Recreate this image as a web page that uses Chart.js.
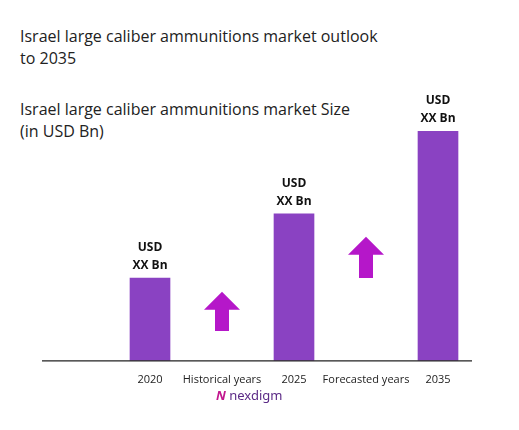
<!DOCTYPE html>
<html>
<head>
<meta charset="utf-8">
<script src="https://cdn.jsdelivr.net/npm/chart.js@4.4.0/dist/chart.umd.min.js"></script>
<style>
  body { margin: 0; background: #fff; font-family: "Open Sans", sans-serif; }
  #wrap { position: relative; width: 519px; height: 430px; }
  .t { position: absolute; left: 20px; color: #222; font-size: 16px; line-height: 22px; }
  #logo { position: absolute; left: 216px; top: 386px; font-size: 13px; color: #5b2a86; font-family: "Noto Sans", sans-serif; }
  #logo b { color: #c2188f; font-style: italic; }
</style>
</head>
<body>
<div id="wrap">
  <div class="t" style="top:25px">Israel large caliber ammunitions market outlook<br>to 2035</div>
  <div class="t" style="top:98px">Israel large caliber ammunitions market Size<br>(in USD Bn)</div>
  <canvas id="myChart" width="519" height="430" style="position:absolute;left:0;top:0"></canvas>
  <div id="logo"><b>N</b> nexdigm</div>
</div>
<script>
const categories = ['2020', 'Historical years', '2025', 'Forecasted years', '2035'];
const marketSize = [3.6, null, 6.4, null, 10];
const barLabels = ['USD\nXX Bn', '', 'USD\nXX Bn', '', 'USD\nXX Bn'];
const arrowRange = [null, [1.3, 3.0], null, [3.6, 5.4], null];

const extras = {
    id: 'extras',
    afterDatasetsDraw(chart) {
        const ctx = chart.ctx;
        const x = chart.scales.x, y = chart.scales.y;
        // baseline
        ctx.save();
        ctx.strokeStyle = '#222';
        ctx.lineWidth = 1.2;
        ctx.beginPath();
        ctx.moveTo(42, y.getPixelForValue(0));
        ctx.lineTo(472, y.getPixelForValue(0));
        ctx.stroke();
        // labels above bars
        ctx.fillStyle = '#111';
        ctx.font = 'bold 12px "Open Sans", sans-serif';
        ctx.textAlign = 'center';
        marketSize.forEach((v, i) => {
            if (v === null) return;
            const px = x.getPixelForValue(i);
            const py = y.getPixelForValue(v);
            const lines = barLabels[i].split('\n');
            ctx.fillText(lines[0], px, py - 27);
            ctx.fillText(lines[1], px, py - 9);
        });
        // arrows
        ctx.fillStyle = '#b517c9';
        arrowRange.forEach((r, i) => {
            if (!r) return;
            const px = x.getPixelForValue(i);
            const top = y.getPixelForValue(r[1]);
            const bot = y.getPixelForValue(r[0]);
            const head = 18;
            ctx.beginPath();
            ctx.moveTo(px, top);
            ctx.lineTo(px + 18, top + head);
            ctx.lineTo(px + 7, top + head);
            ctx.lineTo(px + 7, bot);
            ctx.lineTo(px - 7, bot);
            ctx.lineTo(px - 7, top + head);
            ctx.lineTo(px - 18, top + head);
            ctx.closePath();
            ctx.fill();
        });
        ctx.restore();
    }
};

new Chart(document.getElementById('myChart'), {
    type: 'bar',
    data: {
        labels: categories,
        datasets: [{
            data: marketSize,
            backgroundColor: '#8a42c2',
            barThickness: 40,
            skipNull: true
        }]
    },
    options: {
        responsive: false,
        animation: false,
        layout: { padding: { left: 114, right: 45, top: 131, bottom: 40 } },
        plugins: { legend: { display: false }, tooltip: { enabled: false } },
        scales: {
            x: {
                grid: { display: false },
                border: { display: false },
                ticks: { color: '#222', font: { size: 11, family: 'Open Sans' }, maxRotation: 0, autoSkip: false, padding: 4 }
            },
            y: {
                display: false,
                min: 0,
                max: 10
            }
        }
    },
    plugins: [extras]
});
</script>
</body>
</html>
